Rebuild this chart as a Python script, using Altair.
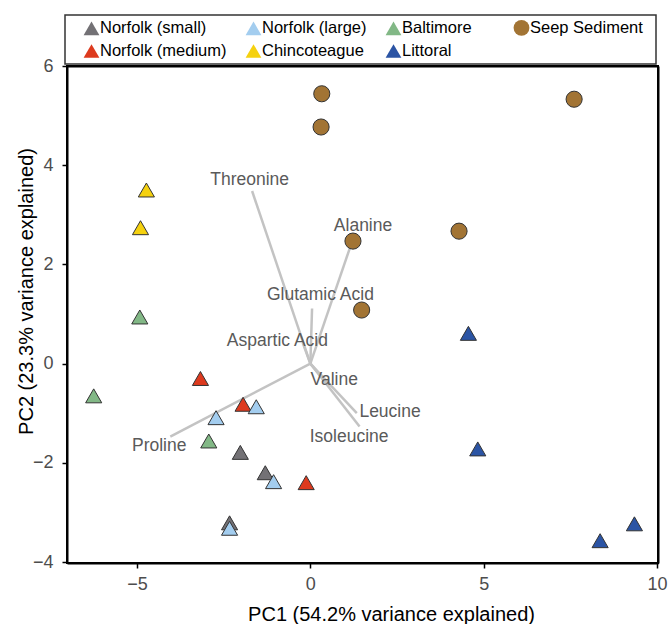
import altair as alt
import pandas as pd

FONT = "Liberation Sans"

# ---- groups (legend order is row-major over 4 columns) ----
groups = ["Norfolk (small)", "Norfolk (large)", "Baltimore", "Seep Sediment",
          "Norfolk (medium)", "Chincoteague", "Littoral"]
group_colors = ["#737175", "#a3cdef", "#82b886", "#a27434",
                "#dd3a1e", "#f5d10f", "#2b54a4"]
group_shapes = ["triangle-up", "triangle-up", "triangle-up", "circle",
                "triangle-up", "triangle-up", "triangle-up"]

# ---- sample scores (PC1, PC2) ----
norfolk_small_pc1 = [-2.02, -1.30, -2.33]
norfolk_small_pc2 = [-1.79, -2.20, -3.21]
norfolk_medium_pc1 = [-3.17, -1.94, -0.12]
norfolk_medium_pc2 = [-0.30, -0.82, -2.40]
norfolk_large_pc1 = [-1.56, -2.72, -1.06, -2.33]
norfolk_large_pc2 = [-0.87, -1.09, -2.38, -3.32]
chincoteague_pc1 = [-4.73, -4.90]
chincoteague_pc2 = [3.50, 2.74]
baltimore_pc1 = [-4.92, -6.25, -2.93]
baltimore_pc2 = [0.94, -0.65, -1.56]
littoral_pc1 = [4.56, 4.83, 8.36, 9.35]
littoral_pc2 = [0.61, -1.72, -3.57, -3.23]
seep_pc1 = [0.33, 0.31, 7.61, 1.23, 4.29, 1.48]
seep_pc2 = [5.44, 4.77, 5.33, 2.47, 2.67, 1.08]

# ---- loadings (arrow tips and label positions) ----
amino_acids = ["Threonine", "Alanine", "Glutamic Acid", "Aspartic Acid",
               "Valine", "Leucine", "Isoleucine", "Proline"]
load_pc1 = [-1.68, 1.15, 0.05, -0.22, 0.48, 1.34, 1.42, -4.04]
load_pc2 = [3.48, 2.35, 1.11, 0.42, -0.40, -1.00, -1.27, -1.47]
label_pc1 = [-1.75, 1.52, 0.29, -0.95, 0.69, 2.30, 1.12, -4.36]
label_pc2 = [3.70, 2.77, 1.38, 0.45, -0.33, -0.97, -1.47, -1.66]

rows = []
for name, xs, ys in [
    ("Norfolk (small)", norfolk_small_pc1, norfolk_small_pc2),
    ("Norfolk (medium)", norfolk_medium_pc1, norfolk_medium_pc2),
    ("Norfolk (large)", norfolk_large_pc1, norfolk_large_pc2),
    ("Chincoteague", chincoteague_pc1, chincoteague_pc2),
    ("Baltimore", baltimore_pc1, baltimore_pc2),
    ("Littoral", littoral_pc1, littoral_pc2),
    ("Seep Sediment", seep_pc1, seep_pc2),
]:
    for a, b in zip(xs, ys):
        rows.append({"group": name, "pc1": a, "pc2": b})
pts_df = pd.DataFrame(rows)

load_df = pd.DataFrame({
    "aa": amino_acids, "x0": 0.0, "y0": 0.0,
    "pc1": load_pc1, "pc2": load_pc2,
    "lx": label_pc1, "ly": label_pc2,
})

x_scale = alt.Scale(domain=[-7.02, 10.03], nice=False, zero=False)
y_scale = alt.Scale(domain=[-4.02, 6.0], nice=False, zero=False)

x_title = "PC1 (54.2% variance explained)"
y_title = "PC2 (23.3% variance explained)"

x_axis = alt.Axis(values=[-5, 0, 5, 10], title=x_title, grid=False,
                  domain=True, domainColor="black", domainWidth=2,
                  tickColor="black", tickWidth=1.5, tickSize=5,
                  labelFont=FONT, labelFontSize=18, labelColor="#4d4d4d", labelPadding=7,
                  titleFont=FONT, titleFontSize=20, titleFontWeight="normal", titleColor="black",
                  titleX=324, titleY=57, titleBaseline="alphabetic")
y_axis = alt.Axis(values=[-4, -2, 0, 2, 4, 6], title=y_title, grid=False,
                  domain=True, domainColor="black", domainWidth=2,
                  tickColor="black", tickWidth=1.5, tickSize=5,
                  labelFont=FONT, labelFontSize=18, labelColor="#4d4d4d", labelPadding=9,
                  titleFont=FONT, titleFontSize=20, titleFontWeight="normal", titleColor="black",
                  titleX=-35, titleY=225, titleBaseline="alphabetic", titleAngle=270)
# plain frame lines on the top and right sides
x_top = alt.Axis(orient="top", title=None, grid=False, labels=False, ticks=False,
                 domain=True, domainColor="black", domainWidth=2)
y_right = alt.Axis(orient="right", title=None, grid=False, labels=False, ticks=False,
                   domain=True, domainColor="black", domainWidth=2)

lines = alt.Chart(load_df).mark_rule(color="#c3c3c3", strokeWidth=2.5).encode(
    x=alt.X("x0:Q", scale=x_scale, axis=x_axis),
    y=alt.Y("y0:Q", scale=y_scale, axis=y_axis),
    x2="pc1:Q", y2="pc2:Q",
)

labels = alt.Chart(load_df).mark_text(font=FONT, fontSize=17.5, color="#5a5a5a",
                                      align="center", baseline="middle").encode(
    x=alt.X("lx:Q", scale=x_scale, axis=x_top),
    y=alt.Y("ly:Q", scale=y_scale, axis=y_right),
    text="aa:N",
)

# trailing non-breaking spaces (closed by a zero-width space so they are kept)
# widen two legend columns to match the reference spacing
NBSP = "\u00a0"
ZWSP = "\u200b"
label_expr = ("datum.label == 'Baltimore' ? 'Baltimore" + NBSP * 5 + ZWSP + "' : "
              "(datum.label == 'Seep Sediment' ? 'Seep Sediment" + NBSP * 2 + ZWSP + "' : datum.label)")

legend = alt.Legend(title=None, orient="none", legendX=-2, legendY=-51,
                    columns=4, direction="horizontal", gridAlign="each",
                    columnPadding=4, rowPadding=3.5,
                    padding=4, symbolOffset=14, labelOffset=0,
                    labelFont=FONT, labelFontSize=16.5, labelColor="black",
                    labelExpr=label_expr,
                    symbolSize=250, symbolStrokeColor="#333333", symbolStrokeWidth=1,
                    strokeColor="#333333")

points = alt.Chart(pts_df).mark_point(filled=True, opacity=1, stroke="#333333",
                                      strokeWidth=1, size=260).encode(
    x=alt.X("pc1:Q", scale=x_scale, axis=None),
    y=alt.Y("pc2:Q", scale=y_scale, axis=None),
    fill=alt.Fill("group:N", scale=alt.Scale(domain=groups, range=group_colors), legend=legend),
    shape=alt.Shape("group:N", scale=alt.Scale(domain=groups, range=group_shapes), legend=legend),
)

chart = alt.layer(lines, labels, points).resolve_axis(
    x="independent", y="independent"
).properties(
    width=591, height=497,
    padding={"left": 67, "top": 66, "right": 10, "bottom": 61},
    autosize=alt.AutoSizeParams(type="none"),
    background="white",
).configure_view(stroke="#000000", strokeWidth=2, strokeOpacity=1).configure_legend(strokeWidth=1.5)

chart.save("out.html", embed_options={"renderer": "svg", "actions": False})
